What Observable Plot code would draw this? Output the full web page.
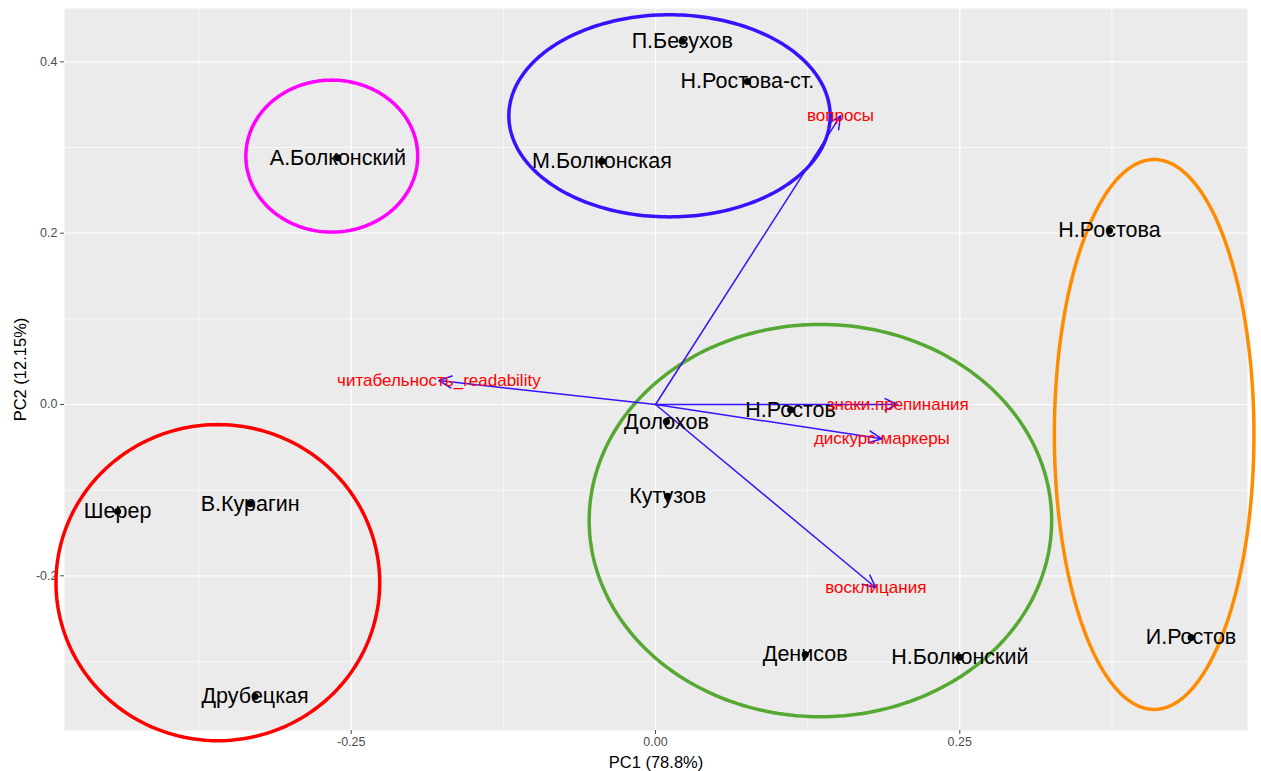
<!DOCTYPE html>
<html>
<head>
<meta charset="utf-8">
<script src="https://cdn.jsdelivr.net/npm/d3@7"></script>
<script src="https://cdn.jsdelivr.net/npm/@observablehq/plot@0.6"></script>
<style>
  html, body { margin: 0; padding: 0; background: white; overflow: hidden; }
  #chart svg { display: block; }
</style>
</head>
<body>
<div id="chart"></div>
<script>
// Observations (characters): PC scores
const names = ["П.Безухов", "Н.Ростова-ст.", "М.Болконская", "А.Болконский", "Н.Ростова", "Н.Ростов", "Долохов", "Кутузов", "Денисов", "Н.Болконский", "И.Ростов", "Шерер", "В.Курагин", "Друбецкая"];
const pc1 = [0.022, 0.0755, -0.044, -0.261, 0.373, 0.111, 0.009, 0.010, 0.123, 0.250, 0.440, -0.442, -0.333, -0.329];
const pc2 = [0.424, 0.377, 0.284, 0.288, 0.203, -0.006, -0.020, -0.107, -0.292, -0.295, -0.272, -0.125, -0.116, -0.341];

// Variable loadings (arrows)
const varNames = ["вопросы", "читабельность_readability", "знаки.препинания", "дискурс.маркеры", "восклицания"];
const varX = [0.152, -0.178, 0.199, 0.186, 0.181];
const varY = [0.337, 0.028, 0.000, -0.040, -0.214];

// Cluster ellipses
const ellCX = [0.0115, -0.266, 0.4097, 0.1355, -0.3596];
const ellCY = [0.337, 0.290, -0.035, -0.1355, -0.208];
const ellRX = [0.132, 0.0706, 0.082, 0.190, 0.133];
const ellRY = [0.118, 0.0887, 0.321, 0.229, 0.1845];
const ellColor = ["#3a10ff", "#ff00ff", "#ff8c00", "#55a832", "#ff0000"];

// Axis ticks
const xTicks = [-0.25, 0, 0.25];
const xMinor = [-0.375, -0.125, 0.125, 0.375];
const yTicks = [-0.2, 0, 0.2, 0.4];
const yMinor = [-0.3, -0.1, 0.1, 0.3];

const pts = names.map((n, i) => ({name: n, x: pc1[i], y: pc2[i]}));
const vars = varNames.map((n, i) => ({name: n, x: varX[i], y: varY[i]}));
const ellPts = [];
ellCX.forEach((cx, i) => {
  for (let k = 0; k <= 240; k++) {
    const t = 2 * Math.PI * k / 240;
    ellPts.push({g: i, c: ellColor[i], x: cx + ellRX[i] * Math.cos(t), y: ellCY[i] + ellRY[i] * Math.sin(t)});
  }
});

const font = "'Liberation Sans', Arial, Helvetica, sans-serif";
const chart = Plot.plot({
  width: 1261,
  height: 771,
  marginLeft: 64,
  marginRight: 14,
  marginTop: 8,
  marginBottom: 41,
  x: {domain: [-0.4856, 0.4864]},
  y: {domain: [-0.3806, 0.4623]},
  style: {fontFamily: font, fontSize: "12.5px", background: "white"},
  marks: [
    Plot.frame({fill: "#ebebeb", stroke: null}),
    Plot.ruleX(xMinor, {stroke: "white", strokeWidth: 0.6}),
    Plot.ruleY(yMinor, {stroke: "white", strokeWidth: 0.6}),
    Plot.ruleX(xTicks, {stroke: "white", strokeWidth: 1.2}),
    Plot.ruleY(yTicks, {stroke: "white", strokeWidth: 1.2}),
    Plot.axisX(xTicks, {tickFormat: d => d.toFixed(2), tickSize: 4, tickPadding: 3, color: "#4d4d4d", label: null}),
    Plot.axisY(yTicks, {tickFormat: d => d.toFixed(1), tickSize: 4, tickPadding: 3, color: "#4d4d4d", label: null}),
    Plot.text(["PC1 (78.8%)"], {frameAnchor: "bottom", text: d => d, textAnchor: "middle", lineAnchor: "middle", dy: 32, fontSize: 16.5, fill: "black"}),
    Plot.text(["PC2 (12.15%)"], {frameAnchor: "left", text: d => d, textAnchor: "middle", lineAnchor: "middle", dx: -44, rotate: -90, fontSize: 16.5, fill: "black"}),
    Plot.line(ellPts, {x: "x", y: "y", z: "g", stroke: "c", strokeWidth: 3.5, curve: "linear"}),
    Plot.arrow(vars, {x1: 0, y1: 0, x2: "x", y2: "y", stroke: "#3a10ff", strokeWidth: 1.5, headLength: 14, headAngle: 50}),
    Plot.dot(pts, {x: "x", y: "y", r: 3.5, fill: "black", stroke: null}),
    Plot.text(pts, {x: "x", y: "y", text: "name", fontSize: 21.5, fill: "black"}),
    Plot.text(vars, {x: "x", y: "y", text: "name", fontSize: 17, fill: "#ff0000"})
  ]
});
document.getElementById("chart").appendChild(chart);
</script>
</body>
</html>
